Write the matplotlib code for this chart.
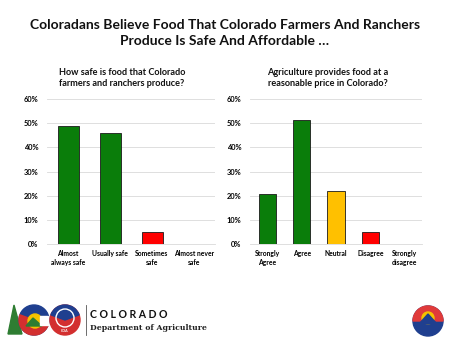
import matplotlib
matplotlib.use("Agg")
import matplotlib.pyplot as plt
from matplotlib.patches import Circle, Wedge, Polygon, Rectangle
from matplotlib.ticker import PercentFormatter

plt.rcParams['font.family'] = ['Lato', 'DejaVu Sans']

# Data
safe_categories = ["Almost\nalways safe", "Usually safe", "Sometimes\nsafe", "Almost never\nsafe"]
safe_values = [49.0, 46.0, 5.2, 0.3]
safe_colors = ["#0a7d0a", "#0a7d0a", "#ff0000", "#333333"]

price_categories = ["Strongly\nAgree", "Agree", "Neutral", "Disagree", "Strongly\ndisagree"]
price_values = [20.8, 51.5, 22.1, 5.2, 0.2]
price_colors = ["#0a7d0a", "#0a7d0a", "#ffc000", "#ff0000", "#888888"]

y_ticks = [0, 10, 20, 30, 40, 50, 60]

main_title = "Coloradans Believe Food That Colorado Farmers And Ranchers\nProduce Is Safe And Affordable …"
left_title = "How safe is food that Colorado\nfarmers and ranchers produce?"
right_title = "Agriculture provides food at a\nreasonable price in Colorado?"

W, H = 450, 348
fig = plt.figure(figsize=(4.5, 3.48), dpi=100)
fig.patch.set_facecolor("white")

def px_axes(x0, y0, x1, y1):
    return fig.add_axes([x0 / W, 1 - y1 / H, (x1 - x0) / W, (y1 - y0) / H])

def style_ax(ax, cats):
    ax.set_ylim(0, 60)
    ax.set_yticks(y_ticks)
    ax.yaxis.set_major_formatter(PercentFormatter(decimals=0))
    ax.grid(axis="y", color="#d9d9d9", linewidth=0.6)
    ax.set_axisbelow(True)
    for s in ["top", "right", "left"]:
        ax.spines[s].set_visible(False)
    ax.spines["bottom"].set_color("#d9d9d9")
    ax.spines["bottom"].set_linewidth(0.6)
    ax.tick_params(axis="y", length=0, labelsize=5.4, pad=6)
    ax.tick_params(axis="x", length=0, labelsize=4.9, pad=4)
    ax.set_xticks(range(len(cats)))
    ax.set_xticklabels(cats, fontweight="bold", linespacing=1.35)
    for lab in ax.get_yticklabels():
        lab.set_fontweight("bold")
    ax.set_xlim(-0.5, len(cats) - 0.5)

axL = px_axes(47, 99, 215, 244.3)
axL.bar(range(len(safe_values)), safe_values, width=0.5, color=safe_colors,
        edgecolor="#1a1a1a", linewidth=0.6)
style_ax(axL, safe_categories)

axR = px_axes(250, 99, 422, 244.3)
axR.bar(range(len(price_values)), price_values, width=0.5, color=price_colors,
        edgecolor="#1a1a1a", linewidth=0.6)
style_ax(axR, price_categories)

fig.text(225 / W, 1 - 33 / H, main_title, ha="center", va="center",
         fontsize=10.0, fontweight="bold", linespacing=1.45, color="#111111")
fig.text(122 / W, 1 - 78 / H, left_title, ha="center", va="center",
         fontsize=6.6, fontweight="bold", linespacing=1.3, color="#111111")
fig.text(328 / W, 1 - 78 / H, right_title, ha="center", va="center",
         fontsize=6.6, fontweight="bold", linespacing=1.3, color="#111111")

# Footer logos (simplified)
lg = fig.add_axes([0, 0, 1, 1], zorder=5)
lg.set_xlim(0, W)
lg.set_ylim(H, 0)
lg.axis("off")
lg.patch.set_alpha(0)

# tree
lg.add_patch(Polygon([[8, 334], [14, 305], [22, 334]], closed=True, color="#2e7d32"))
# C logo
lg.add_patch(Circle((34, 320), 15, color="#1f3f8f"))
lg.add_patch(Wedge((34, 320), 15, 20, 200, color="#d32f2f"))
lg.add_patch(Circle((35, 321), 7, color="#f5c200"))
lg.add_patch(Polygon([[26, 326], [33, 318], [42, 326]], closed=True, color="#2e7d32"))
lg.add_patch(Rectangle((40, 316), 8, 9, color="white"))
# CDA circle
lg.add_patch(Circle((65, 320), 15, color="#d32f2f"))
lg.add_patch(Wedge((65, 320), 15, 200, 340, color="#1f3f8f"))
lg.add_patch(Circle((65, 318), 9, color="white", fill=False, lw=1))
lg.text(65, 331, "CDA", ha="center", va="center", fontsize=2.6, color="white", fontweight="bold")
# separator
lg.plot([86, 86], [305, 335], color="#555555", lw=0.6)
fig.text(90 / W, 1 - 314 / H, "C O L O R A D O", ha="left", va="center",
         fontsize=7.6, fontweight="bold", color="#111111")
fig.text(90 / W, 1 - 328 / H, "Department of Agriculture", ha="left", va="center",
         fontsize=5.6, fontweight="bold", color="#222222", family=["DejaVu Serif"])
# Colorado proud
lg.add_patch(Circle((428, 321), 15, color="#1f3f8f"))
lg.add_patch(Wedge((428, 321), 15, 180, 360, color="#e03a3a"))
lg.add_patch(Circle((428, 318), 6, color="#f5c200"))
lg.add_patch(Polygon([[419, 324], [428, 314], [437, 324]], closed=True, color="#1f3f8f"))

fig.savefig("out.png", dpi=100, facecolor="white")
